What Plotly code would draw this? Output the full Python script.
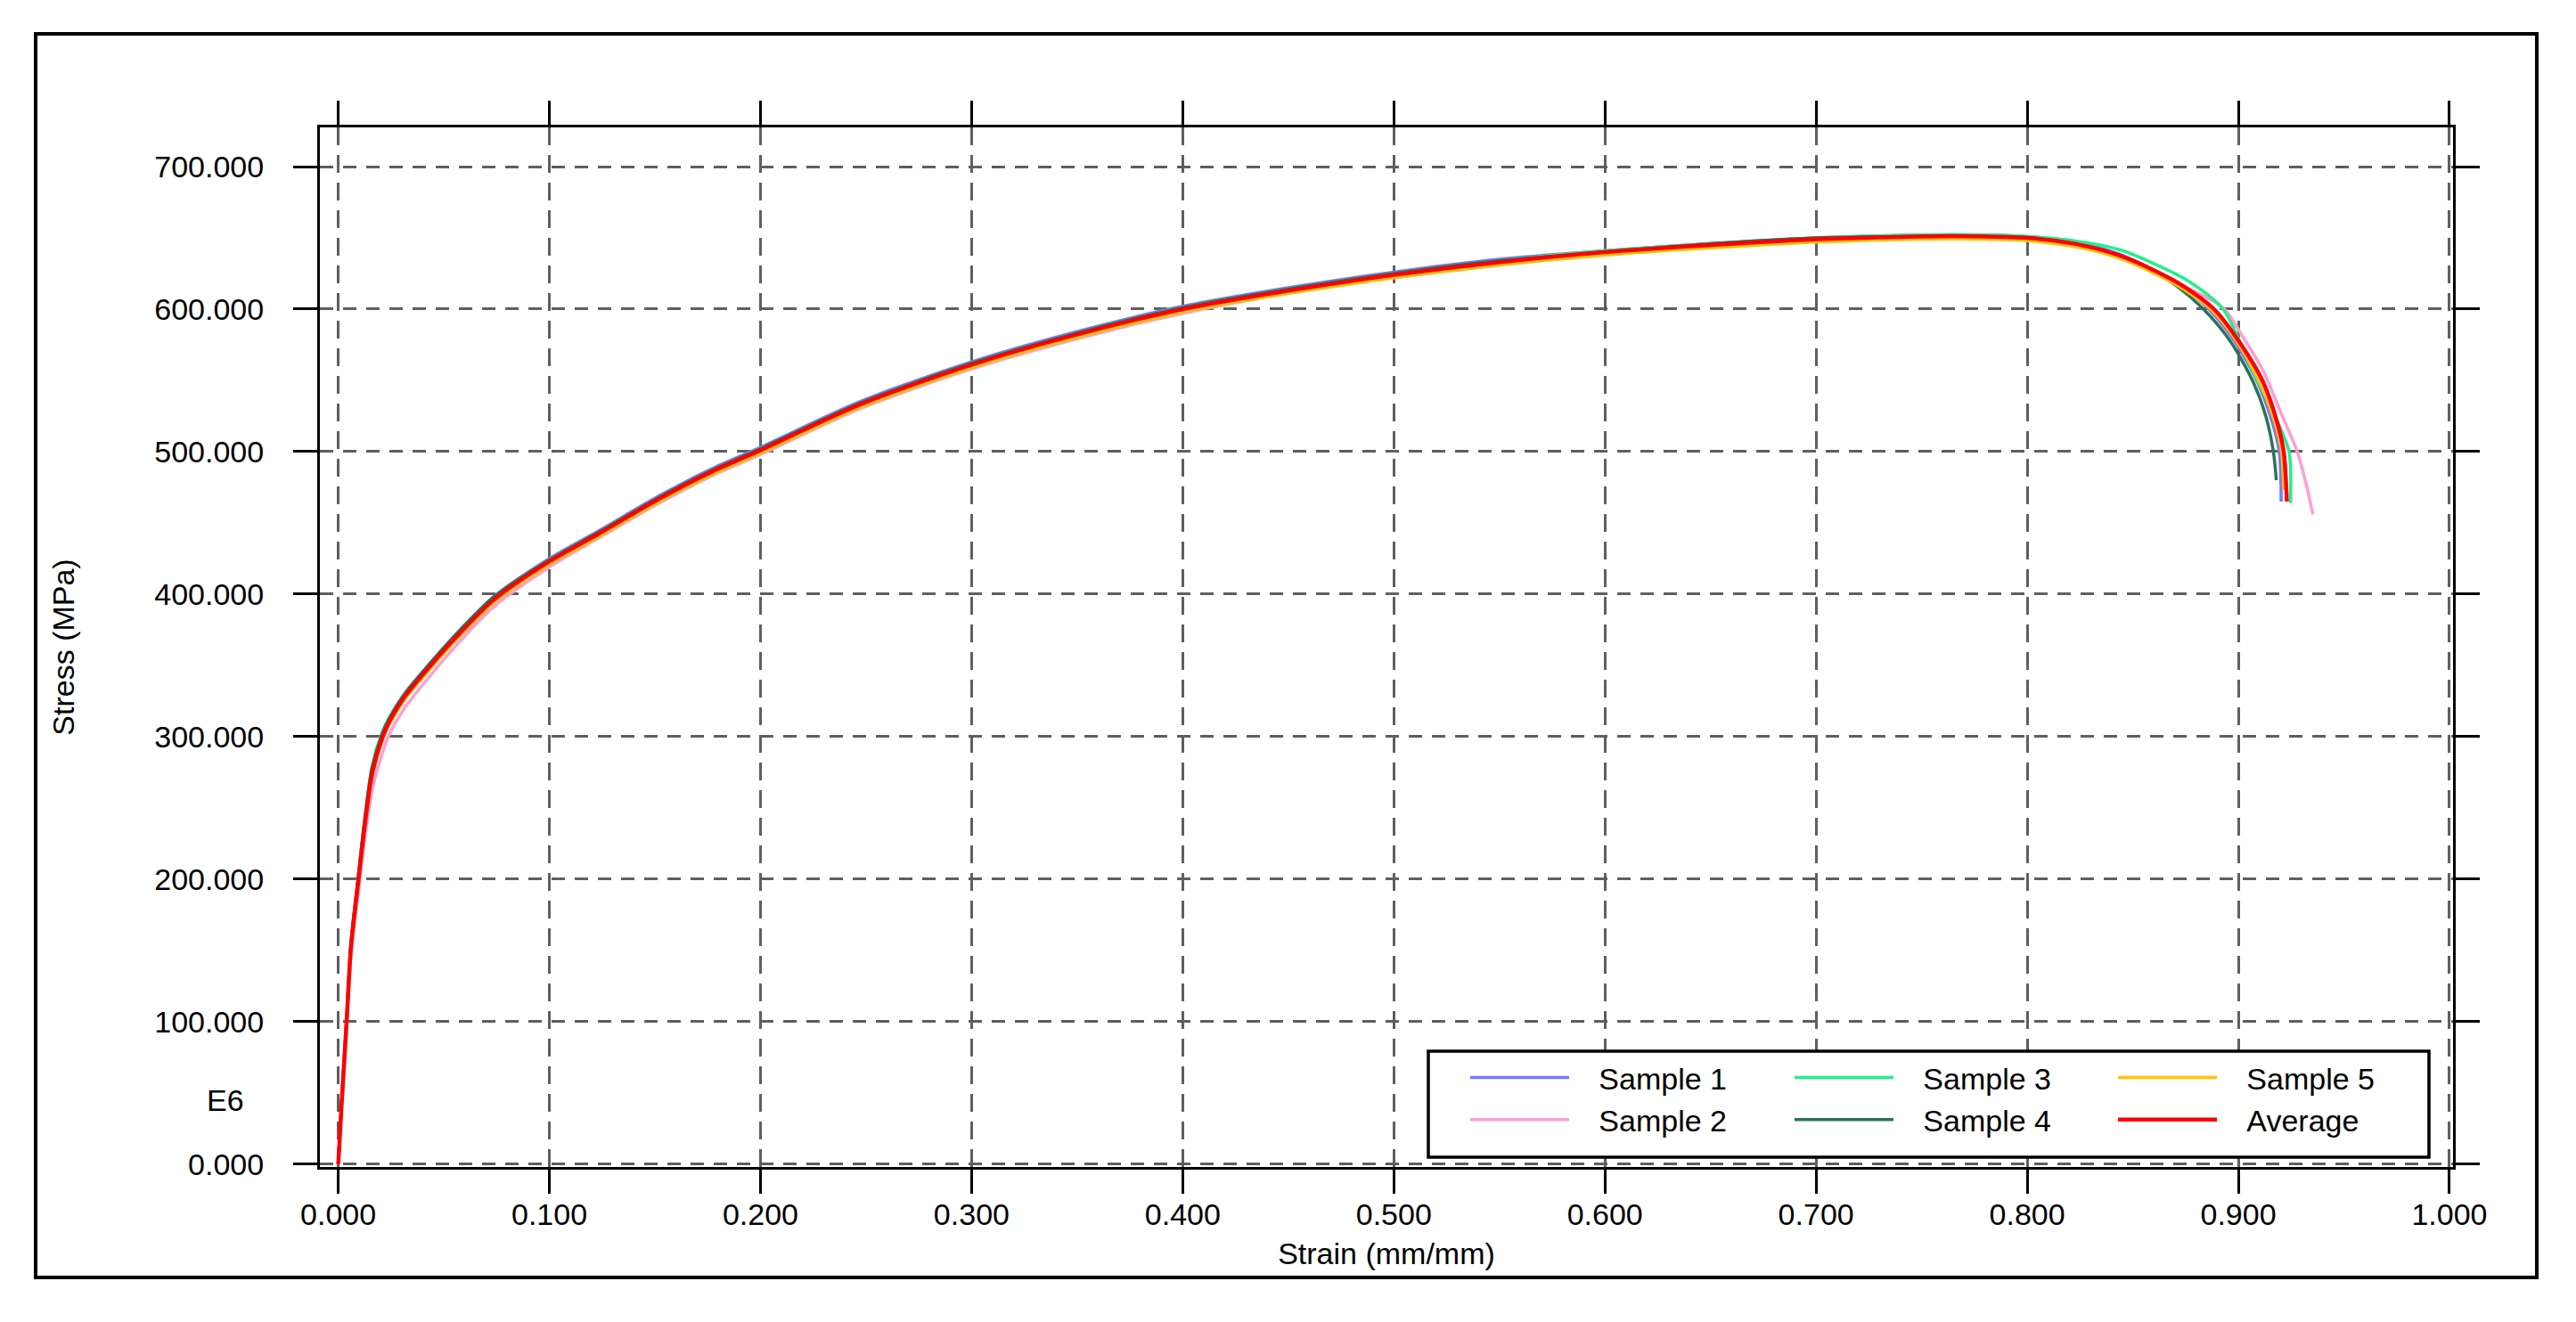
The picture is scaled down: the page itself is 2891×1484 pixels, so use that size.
import plotly.graph_objects as go

# strain grid shared by the loading part of every curve (mm/mm)
STRAIN_RISE = [0, 0.0015, 0.004, 0.006, 0.0096, 0.0124, 0.016, 0.0208, 0.0243, 0.0314,
               0.0426, 0.054, 0.0736, 0.1, 0.124, 0.152, 0.177, 0.2, 0.247, 0.3,
               0.352, 0.4, 0.45, 0.5, 0.55, 0.6, 0.65, 0.7, 0.749, 0.78]

# stress on that grid (MPa)
S1_RISE = [0, 40, 101, 153, 201, 238, 276, 301, 313, 330, 350, 369, 398, 425, 445,
           469, 488, 503, 535, 563, 585, 602, 615, 626, 635, 641, 646, 650, 652, 652]
S2_RISE = [0, 38, 97, 146, 192, 227, 262, 288, 302, 320, 341, 361, 391, 419, 440,
           464, 483, 498, 530, 558, 580, 597, 611, 622, 631, 638, 644, 648, 650, 650]
S3_RISE = [0, 41, 103, 155, 204, 241, 279, 303, 314, 330, 349, 368, 397, 424, 444,
           468, 487, 502, 534, 562, 584, 601, 614, 625, 634, 641, 646, 650, 652, 652]
S4_RISE = [0, 41, 102, 154, 203, 240, 278, 302, 313, 330, 350, 369, 398, 424, 444,
           468, 487, 502, 534, 562, 584, 601, 614, 625, 634, 640, 646, 650, 651, 651]
S5_RISE = [0, 39, 100, 150, 198, 234, 271, 297, 309, 326, 346, 365, 394, 421, 441,
           465, 484, 499, 531, 559, 581, 598, 611, 622, 631, 638, 643, 647, 649, 649]
AVG_RISE = [0, 40, 101, 152, 200, 236, 274, 299, 311, 328, 348, 367, 396, 423, 443,
            467, 486, 501, 533, 561, 583, 600, 613, 624, 633, 640, 645, 649, 651, 651]

# necking / fracture part, each curve has its own points
S1_TAIL_X = [0.8, 0.822, 0.843, 0.859, 0.873, 0.886, 0.898, 0.909, 0.916, 0.9194, 0.9203]
S1_TAIL_Y = [651, 647, 639, 628, 616, 600, 578, 549, 521, 500, 465]
S2_TAIL_X = [0.8, 0.822, 0.843, 0.859, 0.876, 0.8927, 0.9032, 0.9117, 0.9208, 0.9279, 0.9325, 0.9353]
S2_TAIL_Y = [649, 645, 638, 628, 615, 601, 578, 557, 525, 500, 475, 456]
S3_TAIL_X = [0.8, 0.822, 0.843, 0.859, 0.876, 0.8927, 0.9068, 0.9173, 0.924, 0.9247]
S3_TAIL_Y = [651, 648, 642, 632.6, 620, 600, 557, 525, 500, 464]
S4_TAIL_X = [0.8, 0.822, 0.843, 0.859, 0.871, 0.8835, 0.896, 0.907, 0.913, 0.9166, 0.918]
S4_TAIL_Y = [650, 646, 638, 627, 616, 600, 578, 549, 525, 500, 480]
S5_TAIL_X = [0.8, 0.822, 0.843, 0.859, 0.873, 0.887, 0.899, 0.910, 0.917, 0.9205, 0.9215]
S5_TAIL_Y = [648, 644, 636, 626, 615, 600, 578, 549, 522, 500, 473]
AVG_TAIL_X = [0.8, 0.822, 0.843, 0.859, 0.873, 0.8885, 0.900, 0.9117, 0.9187, 0.9215, 0.923]
AVG_TAIL_Y = [650, 646, 638, 628, 617, 600, 578, 549, 519, 500, 465]

NAMES = ["Sample 1", "Sample 2", "Sample 3", "Sample 4", "Sample 5", "Average"]
COLORS = ["#7878FF", "#FF9ED2", "#20F08C", "#2A7358", "#FFC400", "#FF0000"]

FONT = "Liberation Sans, Arial, sans-serif"

# the page body has an 8px margin, so the figure is shrunk by it and
# every reference pixel position is shifted back by the same amount
PAGE_PAD = 8
W, H = 2891 - PAGE_PAD, 1484 - PAGE_PAD
L, R, T, B = 359 - PAGE_PAD, 2753 - PAGE_PAD, 143 - PAGE_PAD, 1310 - PAGE_PAD


def px_x(p):
    return (p - PAGE_PAD - L) / (R - L)


def px_y(p):
    return (B - (p - PAGE_PAD)) / (B - T)


curves = [
    (STRAIN_RISE + S1_TAIL_X, S1_RISE + S1_TAIL_Y),
    (STRAIN_RISE + S2_TAIL_X, S2_RISE + S2_TAIL_Y),
    (STRAIN_RISE + S3_TAIL_X, S3_RISE + S3_TAIL_Y),
    (STRAIN_RISE + S4_TAIL_X, S4_RISE + S4_TAIL_Y),
    (STRAIN_RISE + S5_TAIL_X, S5_RISE + S5_TAIL_Y),
    (STRAIN_RISE + AVG_TAIL_X, AVG_RISE + AVG_TAIL_Y),
]
legend_ids = ["legend", "legend", "legend2", "legend2", "legend3", "legend3"]
GAP = "\u00a0\u00a0\u00a0"  # space between legend swatch and its text

fig = go.Figure()
for i, (xs, ys) in enumerate(curves):
    fig.add_trace(go.Scatter(
        x=xs, y=ys, mode="lines", name=GAP + NAMES[i],
        line=dict(color=COLORS[i], width=4.5 if NAMES[i] == "Average" else 3.5,
                  shape="spline", smoothing=0.8),
        legend=legend_ids[i],
    ))

axis_common = dict(
    showline=True, linecolor="black", linewidth=3, mirror="ticks",
    ticks="outside", ticklen=27, tickwidth=3, tickcolor="black",
    showgrid=True, gridcolor="rgb(95,95,95)", gridwidth=2.5,
    zeroline=False, tickformat=".3f",
    tickfont=dict(family=FONT, size=34, color="black"),
)

fig.update_xaxes(
    **axis_common, range=[-0.0087, 1.0017], tick0=0, dtick=0.1,
    griddash="20px,11px", ticklabelstandoff=-6,
    title=dict(text="Strain (mm/mm)", standoff=15,
               font=dict(family=FONT, size=34, color="black")),
)
fig.update_yaxes(
    **axis_common, range=[-1.9, 727.5], tick0=0, dtick=100,
    griddash="15px,11px", ticklabelstandoff=26,
    title=dict(text="Stress (MPa)", standoff=80,
               font=dict(family=FONT, size=34, color="black")),
)

legend_style = dict(orientation="v", xanchor="left", yanchor="top",
                    bgcolor="rgba(0,0,0,0)", borderwidth=0, itemwidth=111,
                    font=dict(family=FONT, size=34, color="black"))
ly = px_y(1181)

fig.update_layout(
    width=W, height=H,
    margin=dict(l=L, r=W - R, t=T, b=H - B),
    paper_bgcolor="white", plot_bgcolor="white",
    showlegend=True,
    legend=dict(**legend_style, x=px_x(1645), y=ly),
    legend2=dict(**legend_style, x=px_x(2009), y=ly),
    legend3=dict(**legend_style, x=px_x(2372), y=ly),
    shapes=[
        # outer frame
        dict(type="rect", xref="paper", yref="paper",
             x0=px_x(40), x1=px_x(2847), y0=px_y(1434), y1=px_y(38),
             line=dict(color="black", width=4), layer="below"),
        # legend box
        dict(type="rect", xref="paper", yref="paper",
             x0=px_x(1603), x1=px_x(2726), y0=px_y(1299), y1=px_y(1180),
             line=dict(color="black", width=3.5), fillcolor="white", layer="above"),
    ],
    annotations=[
        dict(text="E6", xref="paper", yref="paper", x=px_x(253), y=px_y(1235),
             showarrow=False, xanchor="center", yanchor="middle",
             font=dict(family=FONT, size=34, color="black")),
    ],
)

fig.write_html("out.html")
